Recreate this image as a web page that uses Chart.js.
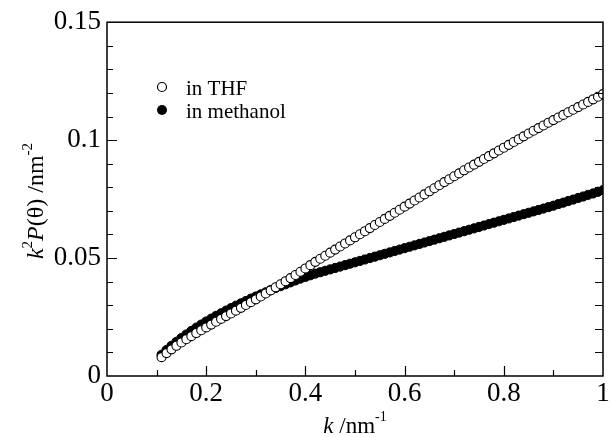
<!DOCTYPE html>
<html>
<head>
<meta charset="utf-8">
<script src="https://cdn.jsdelivr.net/npm/chart.js@4.4.1/dist/chart.umd.min.js"></script>
<style>
  body { margin: 0; background: #fff; }
  #wrap { width: 612px; height: 437px; }
</style>
</head>
<body>
<div id="wrap"><canvas id="chart" width="612" height="437"></canvas></div>
<script>
// k values (nm^-1), same grid for both series
const kValues = [
  0.11, 0.12, 0.13, 0.14, 0.15, 0.16, 0.17, 0.18, 0.19, 0.20,
  0.21, 0.22, 0.23, 0.24, 0.25, 0.26, 0.27, 0.28, 0.29, 0.30,
  0.31, 0.32, 0.33, 0.34, 0.35, 0.36, 0.37, 0.38, 0.39, 0.40,
  0.41, 0.42, 0.43, 0.44, 0.45, 0.46, 0.47, 0.48, 0.49, 0.50,
  0.51, 0.52, 0.53, 0.54, 0.55, 0.56, 0.57, 0.58, 0.59, 0.60,
  0.61, 0.62, 0.63, 0.64, 0.65, 0.66, 0.67, 0.68, 0.69, 0.70,
  0.71, 0.72, 0.73, 0.74, 0.75, 0.76, 0.77, 0.78, 0.79, 0.80,
  0.81, 0.82, 0.83, 0.84, 0.85, 0.86, 0.87, 0.88, 0.89, 0.90,
  0.91, 0.92, 0.93, 0.94, 0.95, 0.96, 0.97, 0.98, 0.99, 1.00
];
// k^2 P(theta) in THF (open circles)
const thfValues = [
  0.0080, 0.0097, 0.0113, 0.0128, 0.0142, 0.0156, 0.0169, 0.0182, 0.0194, 0.0206,
  0.0218, 0.0230, 0.0242, 0.0254, 0.0265, 0.0277, 0.0289, 0.0301, 0.0313, 0.0325,
  0.0337, 0.0350, 0.0363, 0.0376, 0.0389, 0.0402, 0.0415, 0.0428, 0.0442, 0.0456,
  0.0470, 0.0484, 0.0497, 0.0510, 0.0523, 0.0536, 0.0549, 0.0562, 0.0575, 0.0588,
  0.0601, 0.0614, 0.0627, 0.0640, 0.0653, 0.0666, 0.0679, 0.0692, 0.0705, 0.0718,
  0.0731, 0.0744, 0.0757, 0.0770, 0.0783, 0.0796, 0.0809, 0.0822, 0.0834, 0.0847,
  0.0859, 0.0872, 0.0884, 0.0896, 0.0908, 0.0920, 0.0932, 0.0944, 0.0956, 0.0968,
  0.0980, 0.0992, 0.1004, 0.1016, 0.1028, 0.1040, 0.1051, 0.1062, 0.1074, 0.1085,
  0.1096, 0.1107, 0.1118, 0.1129, 0.1140, 0.1151, 0.1162, 0.1173, 0.1184, 0.1195
];
// k^2 P(theta) in methanol (filled circles)
const methanolValues = [
  0.0090, 0.0110, 0.0128, 0.0145, 0.0161, 0.0176, 0.0191, 0.0205, 0.0218, 0.0231,
  0.0243, 0.0255, 0.0266, 0.0277, 0.0288, 0.0298, 0.0308, 0.0318, 0.0328, 0.0337,
  0.0346, 0.0355, 0.0364, 0.0373, 0.0381, 0.0389, 0.0397, 0.0405, 0.0413, 0.0420,
  0.0427, 0.0434, 0.0440, 0.0446, 0.0452, 0.0458, 0.0464, 0.0470, 0.0476, 0.0482,
  0.0488, 0.0494, 0.0500, 0.0506, 0.0512, 0.0518, 0.0524, 0.0530, 0.0536, 0.0542,
  0.0548, 0.0554, 0.0560, 0.0566, 0.0572, 0.0578, 0.0584, 0.0590, 0.0596, 0.0602,
  0.0608, 0.0614, 0.0620, 0.0626, 0.0632, 0.0638, 0.0644, 0.0650, 0.0656, 0.0662,
  0.0668, 0.0674, 0.0680, 0.0686, 0.0692, 0.0698, 0.0704, 0.0710, 0.0716, 0.0722,
  0.0729, 0.0735, 0.0742, 0.0748, 0.0755, 0.0761, 0.0768, 0.0774, 0.0781, 0.0788
];
const seriesNames = ["in THF", "in methanol"];

const SERIF = "'Liberation Serif', 'DejaVu Serif', serif";

function toPoints(ys) {
  return kValues.map((k, i) => ({ x: k, y: ys[i] }));
}

// tick text like the original: 0, 0.2, ... 1 and 0, 0.05, 0.1, 0.15
function shortNum(value) {
  return String(parseFloat(value.toFixed(3)));
}

// draws a run of text pieces (italic / superscript) one after another
function drawPieces(ctx, pieces, x, y) {
  let cx = x;
  pieces.forEach(p => {
    ctx.font = p.font;
    ctx.fillText(p.text, cx, y + (p.dy || 0));
    cx += ctx.measureText(p.text).width;
  });
}
function piecesWidth(ctx, pieces) {
  let w = 0;
  pieces.forEach(p => { ctx.font = p.font; w += ctx.measureText(p.text).width; });
  return w;
}

const framePlugin = {
  id: 'frame',
  afterDraw(chart) {
    const ctx = chart.ctx;
    const a = chart.chartArea;
    const xs = chart.scales.x, ys = chart.scales.y;
    ctx.save();
    ctx.strokeStyle = '#000';
    ctx.lineWidth = 1.5;
    ctx.strokeRect(a.left, a.top, a.right - a.left, a.bottom - a.top);

    ctx.lineWidth = 1.2;
    ctx.beginPath();
    // x ticks, pointing inward from the bottom
    for (let i = 1; i < 10; i++) {
      const v = i / 10;
      const px = Math.round(xs.getPixelForValue(v)) + 0.5;
      const len = (i % 2 === 0) ? 10 : 6;
      ctx.moveTo(px, a.bottom);
      ctx.lineTo(px, a.bottom - len);
    }
    // y ticks, left and right
    for (let i = 1; i < 15; i++) {
      const v = i / 100;
      const py = Math.round(ys.getPixelForValue(v)) + 0.5;
      const len = (i % 5 === 0) ? 10 : 6;
      ctx.moveTo(a.left, py);
      ctx.lineTo(a.left + len, py);
      ctx.moveTo(a.right, py);
      ctx.lineTo(a.right - 8, py);
    }
    ctx.stroke();

    // legend
    ctx.lineWidth = 1.2;
    ctx.beginPath();
    ctx.arc(162, 87, 4.5, 0, Math.PI * 2);
    ctx.fillStyle = '#fff';
    ctx.fill();
    ctx.stroke();
    ctx.beginPath();
    ctx.arc(162, 110, 5, 0, Math.PI * 2);
    ctx.fillStyle = '#000';
    ctx.fill();
    ctx.font = '21px ' + SERIF;
    ctx.textBaseline = 'alphabetic';
    ctx.fillText(seriesNames[0], 186, 95);
    ctx.fillText(seriesNames[1], 186, 118);

    // x axis title
    const xt = [
      { text: 'k', font: 'italic 23px ' + SERIF },
      { text: ' /nm', font: '23px ' + SERIF },
      { text: '-1', font: '14px ' + SERIF, dy: -12 }
    ];
    const xw = piecesWidth(ctx, xt);
    drawPieces(ctx, xt, 355 - xw / 2, 433);

    // y axis title, rotated
    const yt = [
      { text: 'k', font: 'italic 24px ' + SERIF },
      { text: '2', font: '15px ' + SERIF, dy: -11 },
      { text: 'P', font: 'italic 24px ' + SERIF },
      { text: '(θ) /nm', font: '24px ' + SERIF },
      { text: '-2', font: '15px ' + SERIF, dy: -11 }
    ];
    const yw = piecesWidth(ctx, yt);
    ctx.translate(43, 201);
    ctx.rotate(-Math.PI / 2);
    drawPieces(ctx, yt, -yw / 2, 0);
    ctx.restore();
  }
};

new Chart(document.getElementById('chart'), {
  type: 'scatter',
  data: {
    datasets: [
      {
        label: seriesNames[0],
        data: toPoints(thfValues),
        pointRadius: 4.5,
        pointBorderWidth: 1.1,
        pointBorderColor: '#000',
        pointBackgroundColor: '#fff'
      },
      {
        label: seriesNames[1],
        data: toPoints(methanolValues),
        pointRadius: 4.6,
        pointBorderWidth: 1,
        pointBorderColor: '#000',
        pointBackgroundColor: '#000'
      }
    ]
  },
  options: {
    responsive: false,
    devicePixelRatio: 1,
    animation: false,
    layout: { padding: { top: 22, right: 9, left: 0, bottom: 0 } },
    plugins: { legend: { display: false }, tooltip: { enabled: false } },
    scales: {
      x: {
        type: 'linear',
        min: 0, max: 1,
        ticks: { stepSize: 0.2, color: '#000', padding: 2, maxRotation: 0,
                 font: { family: SERIF, size: 27 },
                 callback: v => shortNum(v) },
        grid: { display: true, drawOnChartArea: false, drawTicks: false, color: 'rgba(0,0,0,0)' },
        border: { display: false },
        afterFit(scale) { scale.height = 61; }
      },
      y: {
        type: 'linear',
        min: 0, max: 0.15,
        ticks: { stepSize: 0.05, color: '#000', padding: 6,
                 font: { family: SERIF, size: 27 },
                 callback: v => shortNum(v) },
        grid: { display: true, drawOnChartArea: false, drawTicks: false, color: 'rgba(0,0,0,0)' },
        border: { display: false },
        afterFit(scale) { scale.width = 107; }
      }
    }
  },
  plugins: [framePlugin]
});
</script>
</body>
</html>
